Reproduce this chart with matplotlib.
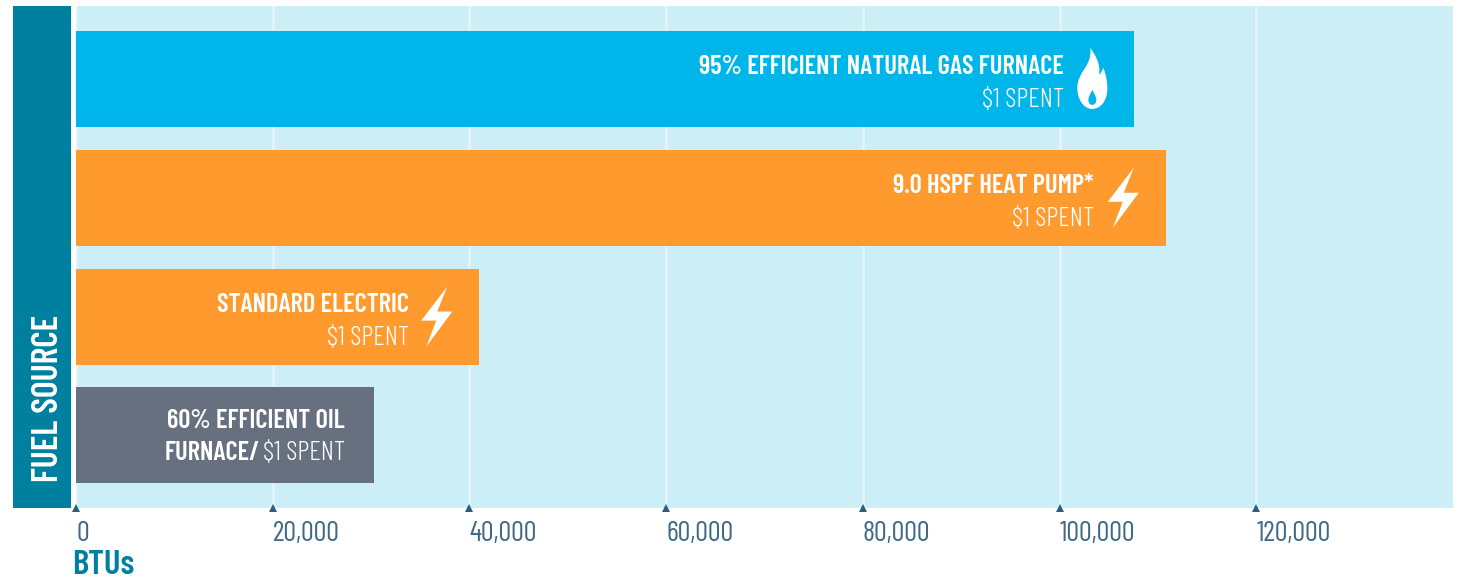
import matplotlib
matplotlib.use("Agg")
import matplotlib.pyplot as plt
from matplotlib.patches import PathPatch, Rectangle
from matplotlib.path import Path
from matplotlib.transforms import Affine2D

plt.rcParams["font.family"] = ["Barlow Condensed", "Roboto", "DejaVu Sans"]

# Data
titles = ["95% EFFICIENT NATURAL GAS FURNACE", "9.0 HSPF HEAT PUMP*", "STANDARD ELECTRIC", "60% EFFICIENT OIL"]
btus = [107600, 110800, 41000, 30300]
bar_colors = ["#00b5e9", "#ff9a2e", "#ff9a2e", "#66707e"]
xticks = [0, 20000, 40000, 60000, 80000, 100000, 120000]
xlabels = ["0", "20,000", "40,000", "60,000", "80,000", "100,000", "120,000"]

W, H = 1458, 579
teal = "#00809f"
tick_col = "#3f6a85"
px = 0.72  # points per pixel at dpi 100
fs_bold = 19.1
fs_light = 19.5

fig = plt.figure(figsize=(W / 100, H / 100), dpi=100)
ax = fig.add_axes([76 / W, 1 - 508 / H, (1453 - 76) / W, 502 / H], facecolor="#cceef7")
ax.set_xlim(0, 140000)
ax.set_ylim(3.611, -0.614)
for s in ax.spines.values():
    s.set_visible(False)

ax.grid(axis="x", color="#e0f3f9", lw=3 * px, zorder=1)
ax.set_axisbelow(True)
ax.barh(range(4), btus, height=0.808, color=bar_colors, zorder=2)

# tick triangles sit on the bottom edge of the panel
ax.set_yticks([])
ax.set_xticks(xticks)
ax.set_xticklabels([])
ax.tick_params(axis="x", length=0)
ax.plot(xticks, [3.611] * len(xticks), ls="", marker="^", ms=8 * px, color="#2a5f80",
        markeredgewidth=0, zorder=3, clip_on=False)

# tick labels, left aligned on the tick
for x, lab in zip(xticks, xlabels):
    ax.annotate(lab, (x, 3.611), xytext=(0, -26 * px), textcoords="offset points",
                ha="left", va="center", fontsize=20.5, fontweight=400, color=tick_col,
                annotation_clip=False)

fig.text(72 / W, 1 - 565 / H, "BTUs", ha="left", va="center", fontsize=25,
         fontweight=600, color=teal)

# dark block with the axis title
fig.add_artist(Rectangle((13 / W, 1 - 508 / H), 58 / W, 502 / H, transform=fig.transFigure,
                         facecolor=teal, edgecolor="none"))
fig.text(49 / W, 1 - 398 / H, "FUEL SOURCE", rotation=90, ha="center", va="center",
         fontsize=25.8, fontweight=600, color="white")

for i, off in zip([0, 1, 2], [-70, -72, -70]):
    ax.annotate(titles[i], (btus[i], i), xytext=(off * px, 11.5 * px), textcoords="offset points",
                ha="right", va="center", fontsize=fs_bold, fontweight=600, color="white")
    ax.annotate("$1 SPENT", (btus[i], i), xytext=(off * px, -21 * px), textcoords="offset points",
                ha="right", va="center", fontsize=fs_light, fontweight=300, color="white")

# the oil bar wraps differently, bold and light on one line
ax.annotate(titles[3], (btus[3], 3), xytext=(-29 * px, 14 * px), textcoords="offset points",
            ha="right", va="center", fontsize=fs_bold, fontweight=600, color="white")
ax.annotate("FURNACE/", (btus[3], 3), xytext=(-114 * px, -18 * px), textcoords="offset points",
            ha="right", va="center", fontsize=fs_bold, fontweight=600, color="white")
ax.annotate("$1 SPENT", (btus[3], 3), xytext=(-29 * px, -18 * px), textcoords="offset points",
            ha="right", va="center", fontsize=fs_light, fontweight=300, color="white")

# icons, local coordinates in pixels
bolt = Path([(-32, 30), (-58, -4), (-43, -4), (-53, -30), (-27, 5), (-42, 5), (-32, 30)],
            [Path.MOVETO] + [Path.LINETO] * 5 + [Path.CLOSEPOLY])
C = Path.CURVE4
flame = Path([(-42, -30), (-51, -30), (-57, -20), (-57, -9), (-57, 8), (-42, 12), (-44, 31),
              (-39, 24), (-34, 16), (-35, 4), (-33, 6), (-32, 9), (-31, 11), (-28, 4), (-27, -3),
              (-27, -10), (-27, -22), (-34, -30), (-42, -30)],
             [Path.MOVETO] + [C] * 18)
hole = Path([(-42, -11), (-44, -15), (-46, -18), (-46, -21), (-46, -24), (-44, -26), (-42, -26),
             (-40, -26), (-38, -24), (-38, -21), (-38, -18), (-40, -15), (-42, -11)],
            [Path.MOVETO] + [C] * 12)


def icon(path, i, color):
    x0, y0 = ax.transData.transform((btus[i], i))
    fig.add_artist(PathPatch(path, facecolor=color, edgecolor="none",
                             transform=Affine2D().translate(x0, y0)))


icon(flame, 0, "white")
icon(hole, 0, bar_colors[0])
icon(bolt, 1, "white")
icon(bolt, 2, "white")

fig.savefig("out.png", dpi=100)
